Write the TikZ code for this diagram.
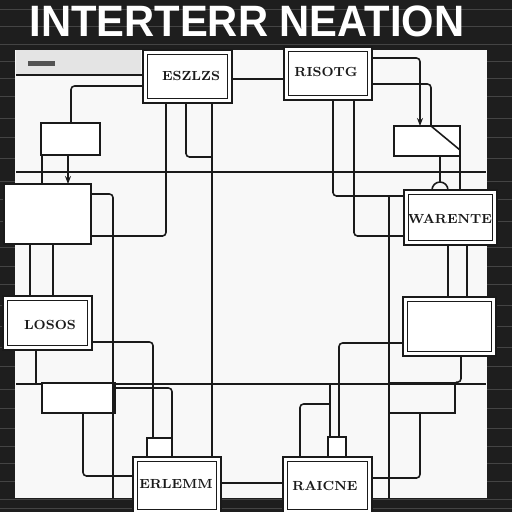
\documentclass[tikz,border=0pt]{standalone}
\usepackage{fontspec}
\newfontfamily\titlefont{Liberation Sans}
\usetikzlibrary{arrows.meta}
\definecolor{ink}{HTML}{1A1A1A}
\definecolor{paper}{HTML}{F8F8F8}
\definecolor{board}{HTML}{1E1E1E}
\definecolor{streak}{HTML}{444444}
\definecolor{band}{HTML}{E4E4E4}

\begin{document}
\begin{tikzpicture}[x=0.02cm, y=-0.02cm, >={Stealth[length=1.6mm, width=1.2mm]},
  wire/.style={ink, line width=0.9pt, rounded corners=2pt},
  panel/.style={draw=ink, fill=white, line width=1.3pt, inner sep=0pt, outer sep=0pt},
  framed/.style={panel, path picture={\draw[ink, line width=0.5pt]
    ([shift={(2.5pt,2.5pt)}]path picture bounding box.south west) rectangle
    ([shift={(-2.5pt,-2.5pt)}]path picture bounding box.north east);}},
  tag/.style={font=\fontsize{7.5}{7.5}\selectfont\bfseries, text=ink}]

\useasboundingbox (0,0) rectangle (512,512);

% Background board
\fill[board] (0,0) rectangle (512,512);
\foreach \y in {9,26,44,61,78,96,118,137,158,181,199,221,247,266,284,305,326,347,366,389,408,428,446,463,481,499,508}
  \draw[streak, line width=0.5pt] (0,\y) -- (512,\y);

% Title
\node[text=white, font=\titlefont\fontsize{25}{25}\selectfont\bfseries, xscale=0.95] (title) at (247,21) {INTERTERR NEATION};

% Paper sheet
\fill[paper] (15,50) rectangle (487,498);
\fill[band] (16,50) rectangle (141,75);
\fill[ink!75] (28,61) rectangle (55,66);
\draw[ink, line width=0.6pt] (16,75) -- (143,75);
\coordinate (pb) at (0,498);

% Long grid lines
\draw[ink, line width=0.7pt] (16,172) -- (486,172);
\draw[ink, line width=0.7pt] (16,384) -- (486,384);

%%% Boxes %%%
\node[framed, minimum width=1.78cm, minimum height=1.06cm] (A) at (187.5,76.5) {};
\node[tag] at (191,76) {ESZLZS};
\node[framed, minimum width=1.76cm, minimum height=1.06cm] (B) at (328,73.5) {};
\node[tag] at (326,72) {RISOTG};
\node[panel, minimum width=1.18cm, minimum height=0.64cm] (C) at (70.5,139) {};
\node[panel, minimum width=1.74cm, minimum height=1.20cm] (D) at (47.5,214) {};
\node[framed, minimum width=1.78cm, minimum height=1.08cm] (E) at (47.5,323) {};
\node[tag] at (50,325) {LOSOS};
\node[panel, minimum width=1.46cm, minimum height=0.60cm] (F) at (78.5,398) {};
\node[panel, minimum width=1.32cm, minimum height=0.60cm] (G) at (427,141) {};
\node[framed, minimum width=1.86cm, minimum height=1.10cm] (H) at (450.5,217.5) {};
\node[tag] at (450,219) {WARENTE};
\node[framed, minimum width=1.86cm, minimum height=1.18cm] (I) at (449.5,326.5) {};
\node[draw=ink, line width=0.9pt, inner sep=0pt, minimum width=1.32cm, minimum height=0.60cm] (J) at (422,398) {};
\node[framed, minimum width=1.76cm, minimum height=1.14cm] (K) at (177,485.5) {};
\node[tag] at (176,484) {ERLEMM};
\node[panel, line width=1pt, minimum width=0.50cm, minimum height=0.38cm] (Ks) at (159.5,447.5) {};
\node[framed, minimum width=1.78cm, minimum height=1.14cm] (L) at (327.5,485.5) {};
\node[tag] at (325,486) {RAICNE};
\node[panel, line width=1pt, minimum width=0.36cm, minimum height=0.40cm] (Ls) at (337,447) {};

%%% Left side connectors %%%
\draw[wire] (A.west |- 0,86) -| (71,0 |- C.north);
\draw[wire] (A.east |- 0,79) -- (B.west |- 0,79);
\draw[wire] (166,0 |- A.south) |- (D.east |- 0,236);
\draw[wire] (186,0 |- A.south) |- (212,157);
\draw[wire] (212,0 |- A.south) -- (212,0 |- K.north);
\draw[wire] (42,0 |- C.south) -- (42,0 |- D.north);
\draw[wire, ->] (68,0 |- C.south) -- (68,0 |- D.north);
\draw[wire] (D.east |- 0,194) -| (113,0 |- pb);
\draw[wire] (30,0 |- D.south) -- (30,0 |- E.north);
\draw[wire] (53,0 |- D.south) -- (53,0 |- E.north);
\draw[wire] (E.east |- 0,342) -| (153,0 |- Ks.north);
\draw[wire] (36,0 |- E.south) -- (36,0 |- F.north);
\draw[wire] (83,0 |- F.south) |- (K.west |- 0,476);
\draw[wire] (F.east |- 0,388) -| (172,0 |- Ks.north);
\draw[wire] (K.east |- 0,483) -- (L.west |- 0,483);

%%% Right side connectors %%%
\draw[wire] (B.east |- 0,84) -| (431,0 |- G.north);
\draw[wire] (431,0 |- G.north) -- (G.east |- 0,150);
\draw[wire, ->] (B.east |- 0,58) -| (420,0 |- G.north);
\draw[wire] (440,0 |- G.south) -- (440,182);
\draw[wire] (432,0 |- H.north) arc[start angle=180, end angle=360, radius=8];
\draw[wire] (460,0 |- G.south) -- (460,0 |- H.north);
\draw[wire] (333,0 |- B.south) |- (H.west |- 0,196);
\draw[wire] (354,0 |- B.south) |- (H.west |- 0,236);
\draw[wire] (389,196) -- (389,0 |- pb);
\draw[wire] (448,0 |- H.south) -- (448,0 |- I.north);
\draw[wire] (467,0 |- H.south) -- (467,0 |- I.north);
\draw[wire] (I.west |- 0,343) -| (339,0 |- Ls.north);
\draw[wire] (461,0 |- I.south) |- (J.north east);
\draw[wire] (420,0 |- J.south) |- (L.east |- 0,478);
\draw[wire] (330,384) -- (330,0 |- Ls.north);
\draw[wire] (330,404) -| (300,0 |- L.north);

\end{tikzpicture}
\end{document}
